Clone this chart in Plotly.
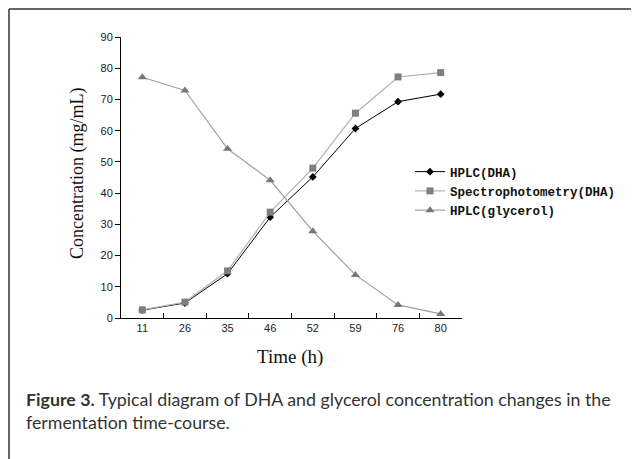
import plotly.graph_objects as go

time_labels = ["11", "26", "35", "46", "52", "59", "76", "80"]
hplc_dha = [2.5, 4.8, 14.2, 32.3, 45.2, 60.7, 69.3, 71.7]
spectro_dha = [2.6, 5.1, 15.1, 33.9, 48.0, 65.6, 77.2, 78.6]
hplc_glycerol = [77.1, 72.9, 54.2, 44.1, 27.8, 13.8, 4.2, 1.3]

# page has an 8px body margin; work in page pixel coordinates and convert
OFF = 8
W, H = 639 - OFF, 459 - OFF
L, R, T, B = 121 - OFF, 462 - OFF, 37 - OFF, 318 - OFF

fig = go.Figure()
fig.add_trace(go.Scatter(x=time_labels, y=hplc_dha, name="HPLC(DHA)", mode="lines+markers",
                         line=dict(color="#000000", width=1),
                         marker=dict(symbol="diamond", size=6, color="#000000")))
fig.add_trace(go.Scatter(x=time_labels, y=spectro_dha, name="Spectrophotometry(DHA)", mode="lines+markers",
                         line=dict(color="#b0b0b0", width=1.2),
                         marker=dict(symbol="square", size=7, color="#7f7f7f")))
fig.add_trace(go.Scatter(x=time_labels, y=hplc_glycerol, name="HPLC(glycerol)", mode="lines+markers",
                         line=dict(color="#a0a0a0", width=1.2),
                         marker=dict(symbol="triangle-up", size=8, color="#787878")))

def px_x(px):
    return (px - OFF - L) / (R - L)

def px_y(py):
    return (B - (py - OFF)) / (B - T)

fig.update_layout(
    width=W, height=H,
    margin=dict(l=L, r=W - R, t=T, b=H - B, pad=0),
    paper_bgcolor="white", plot_bgcolor="white",
    showlegend=True,
    legend=dict(x=px_x(410), y=px_y(157), xanchor="left", yanchor="top",
                font=dict(family="Liberation Mono", size=12.5, color="#111111", weight="bold"),
                bgcolor="rgba(0,0,0,0)", tracegroupgap=0, itemwidth=30,
                traceorder="normal"),
    xaxis=dict(type="category", range=[-0.5, 7.5], tickson="boundaries",
               ticks="inside", ticklen=5, tickcolor="#000", showline=True,
               linecolor="#000", linewidth=1, showgrid=False, zeroline=False,
               tickfont=dict(family="Liberation Sans", size=11, color="#222"),
               fixedrange=True),
    yaxis=dict(range=[0, 90], tickvals=list(range(0, 91, 10)), ticks="outside",
               ticklen=5, tickcolor="#000", showline=True, linecolor="#000",
               linewidth=1, showgrid=False, zeroline=False,
               tickfont=dict(family="Liberation Sans", size=11, color="#222"),
               fixedrange=True),
    font=dict(family="Liberation Serif"),
)

fig.add_annotation(text="Concentration (mg/mL)", xref="paper", yref="paper",
                   x=px_x(77), y=px_y(174), textangle=-90, showarrow=False,
                   font=dict(family="Liberation Serif", size=18, color="#111"),
                   xanchor="center", yanchor="middle")
fig.add_annotation(text="Time (h)", xref="paper", yref="paper",
                   x=px_x(290), y=px_y(357), showarrow=False,
                   font=dict(family="Liberation Serif", size=19, color="#111"),
                   xanchor="center", yanchor="middle")
fig.add_annotation(text="<b>Figure 3.</b> Typical diagram of DHA and glycerol concentration changes in the<br>fermentation time-course.",
                   xref="paper", yref="paper", x=px_x(24), y=px_y(386),
                   showarrow=False, align="left", xanchor="left", yanchor="top",
                   font=dict(family="Lato", size=17.8, color="#333"))

# frame (top and left edges)
fig.add_shape(type="line", xref="paper", yref="paper", x0=px_x(9), x1=px_x(650),
              y0=px_y(9), y1=px_y(9), line=dict(color="#333", width=1.5))
fig.add_shape(type="line", xref="paper", yref="paper", x0=px_x(9), x1=px_x(9),
              y0=px_y(9), y1=px_y(470), line=dict(color="#333", width=1.5))

fig.write_html("out.html")
